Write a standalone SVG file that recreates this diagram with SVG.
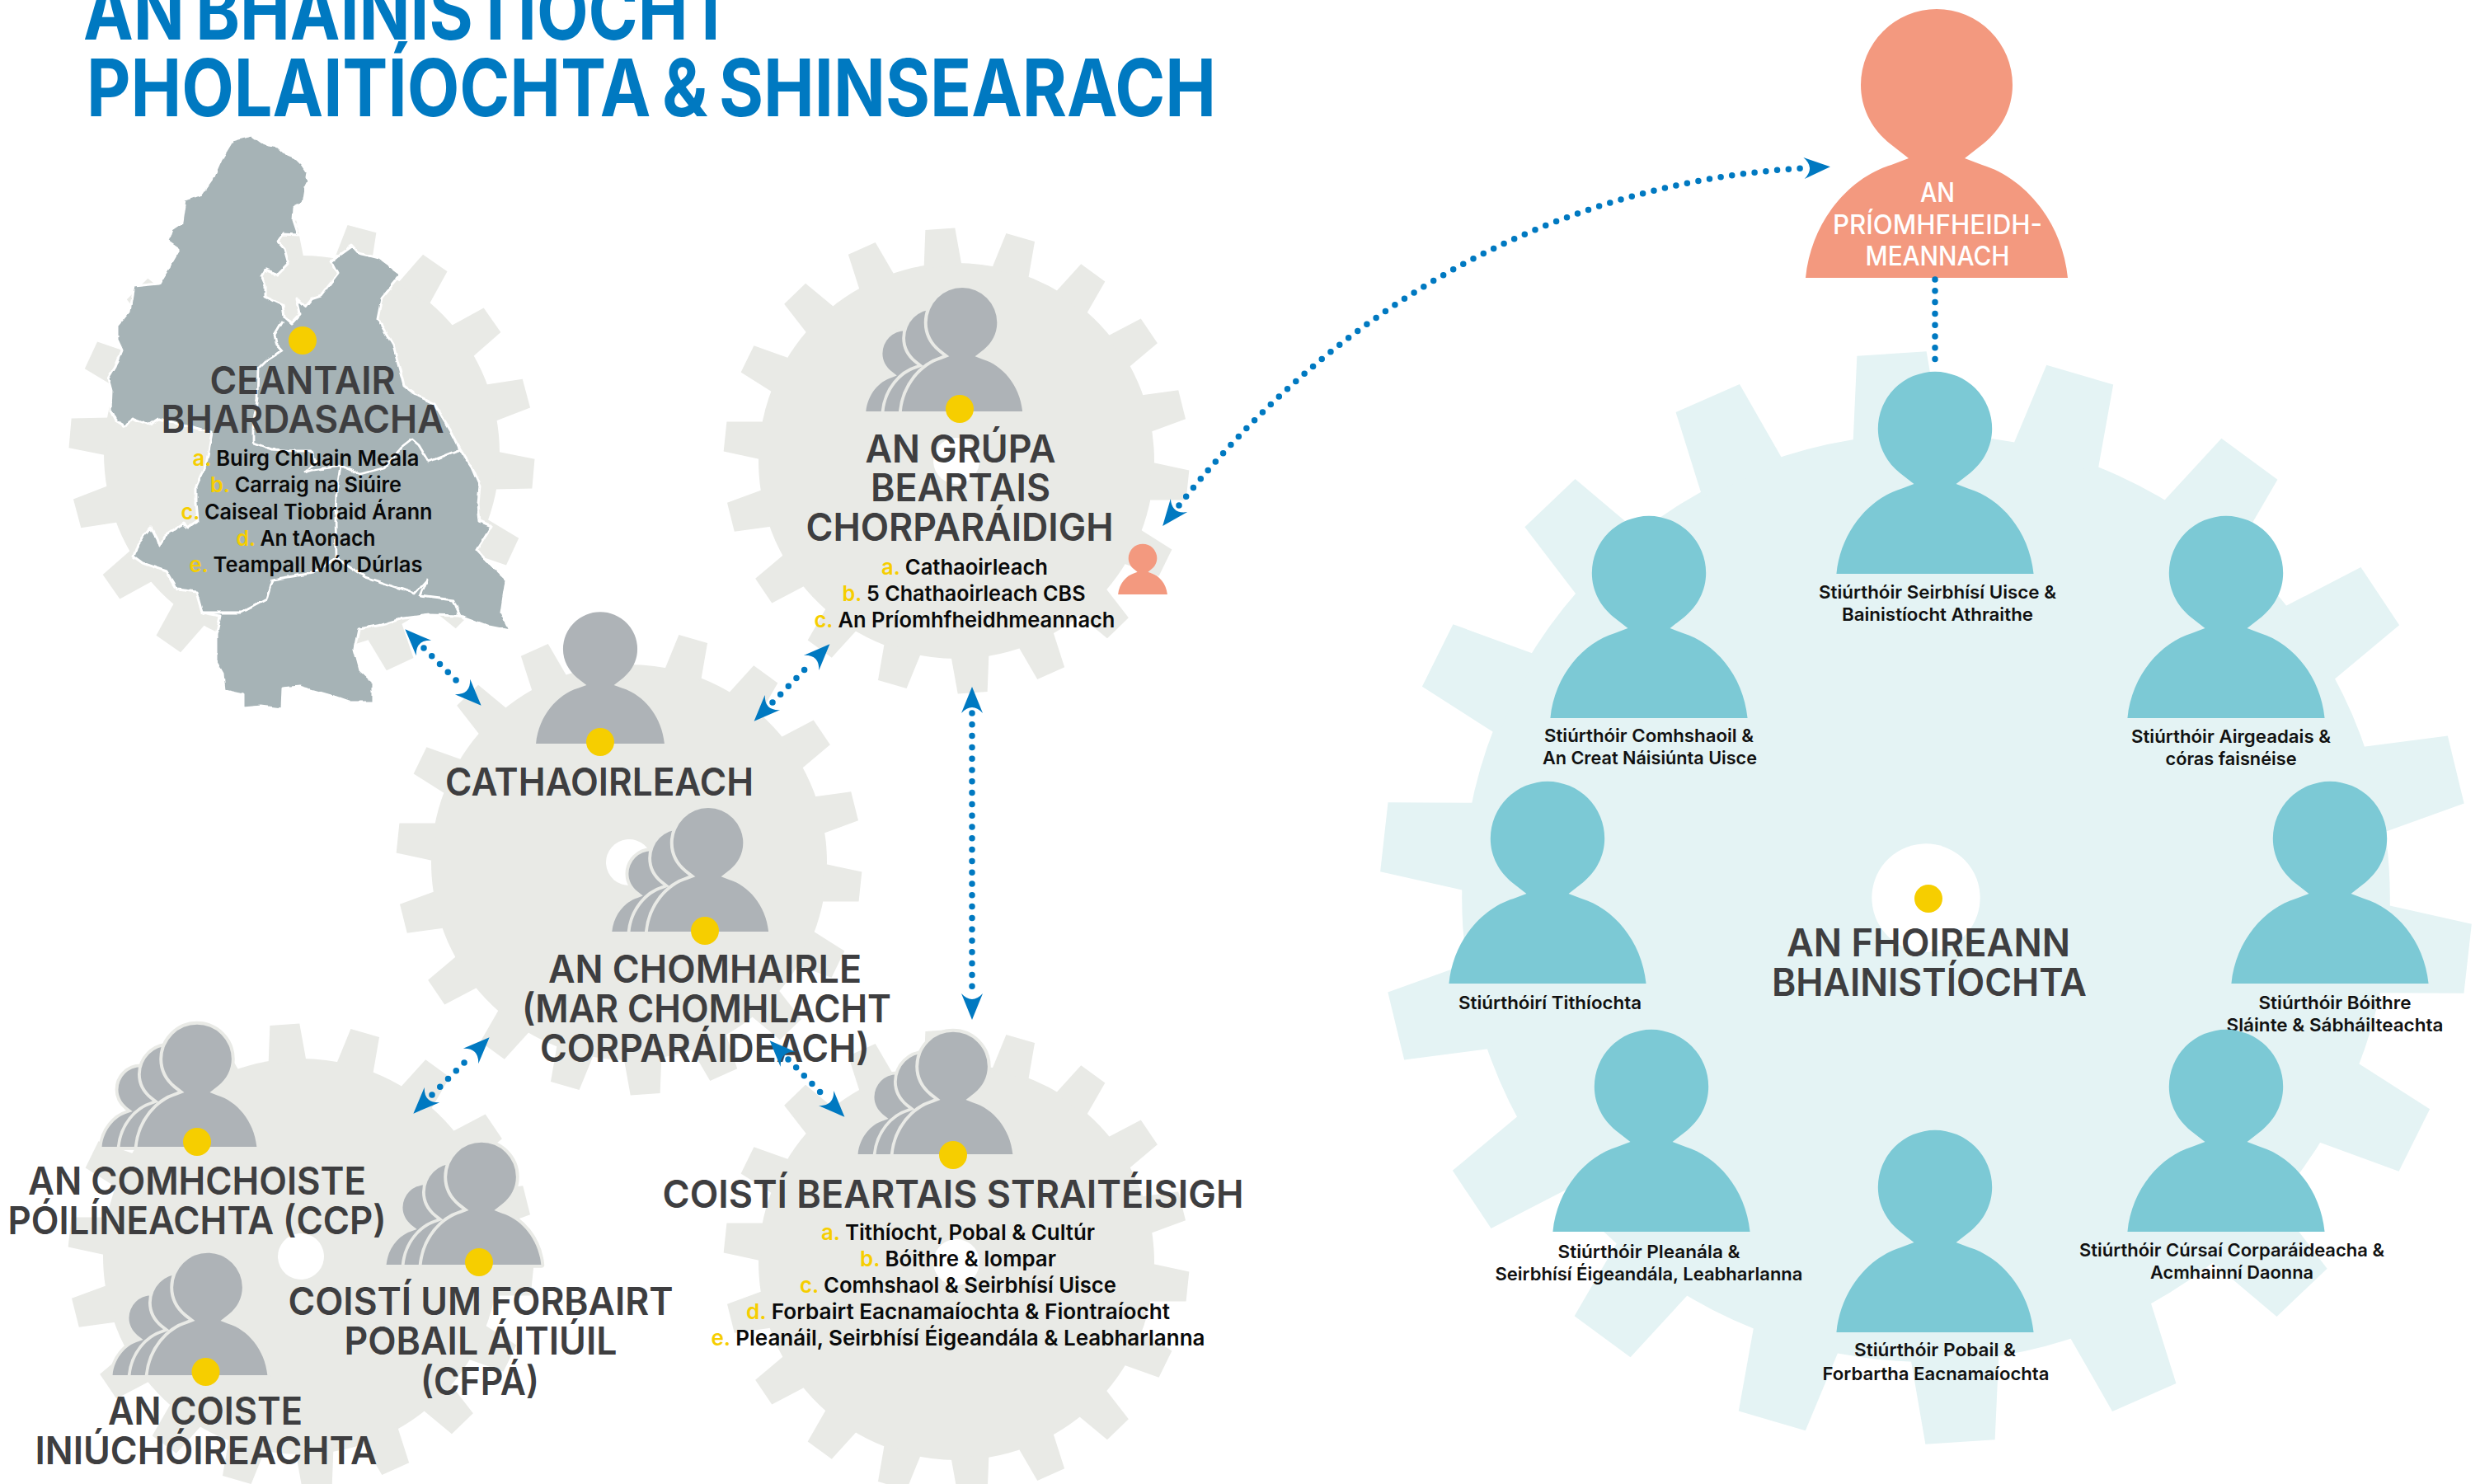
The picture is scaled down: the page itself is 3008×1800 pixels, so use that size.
<svg xmlns="http://www.w3.org/2000/svg" width="3008" height="1800" viewBox="0 0 3008 1800">
<style>
text{font-family:Inter,Roboto,"Liberation Sans",sans-serif;text-anchor:middle}
.ti{font-size:96px;font-weight:700;fill:#0079c1;word-spacing:-7px}
.h{font-size:46px;font-weight:600;fill:#3e3e40}
.l{font-size:26px;font-weight:600;fill:#0a0a0a}
.s{font-size:22px;font-weight:600;fill:#111}
.w{font-size:32px;font-weight:500;fill:#fff}
.y{fill:#f6ce00}
.gr{fill:#aeb3b7}
.te{fill:#7cc9d5}
.sa{fill:#f3997f}
.gg{fill:#e9eae6}
.dot{fill:#f6ce00}
.c{fill:none;stroke:#0079c1;stroke-width:7.5;stroke-linecap:round;stroke-dasharray:0 13.8}
.a{marker-start:url(#ah);marker-end:url(#ah)}
.tr{stroke:#e9eae6;stroke-linejoin:round;paint-order:stroke}
</style>
<defs>
<filter id="rough" x="-5%" y="-5%" width="110%" height="110%"><feTurbulence type="fractalNoise" baseFrequency="0.07" numOctaves="2" seed="4" result="n"/><feDisplacementMap in="SourceGraphic" in2="n" scale="5" xChannelSelector="R" yChannelSelector="G"/></filter>
<marker id="ah" viewBox="0 -14 34 28" markerWidth="34" markerHeight="28" refX="0" refY="0" markerUnits="userSpaceOnUse" orient="auto-start-reverse" overflow="visible"><path d="M0,-13 L32,0 L0,13 Q14,0 0,-13 Z" fill="#0079c1"/></marker>
<polygon id="t" points="-23,-236 -18,-282 18,-282 23,-236"/>
<g id="gear">
<circle r="240"/>
<use href="#t"/><use href="#t" transform="rotate(20)"/><use href="#t" transform="rotate(40)"/><use href="#t" transform="rotate(60)"/><use href="#t" transform="rotate(80)"/><use href="#t" transform="rotate(100)"/><use href="#t" transform="rotate(120)"/><use href="#t" transform="rotate(140)"/><use href="#t" transform="rotate(160)"/><use href="#t" transform="rotate(180)"/><use href="#t" transform="rotate(200)"/><use href="#t" transform="rotate(220)"/><use href="#t" transform="rotate(240)"/><use href="#t" transform="rotate(260)"/><use href="#t" transform="rotate(280)"/><use href="#t" transform="rotate(300)"/><use href="#t" transform="rotate(320)"/><use href="#t" transform="rotate(340)"/>
<circle r="28" fill="#fff"/>
</g>
<path id="p" d="M-159,0 C-152,-70 -105,-122 -55,-137 L-34,-145 L-57,-163 C-78,-180 -92,-205 -92,-234 A92,92 0 1 1 92,-234 C92,-205 78,-180 57,-163 L34,-145 L55,-137 C105,-122 152,-70 159,0 Z"/>
<g id="tri" class="tr">
<use href="#p" transform="translate(-150,0) scale(.652)" stroke-width="26"/>
<use href="#p" transform="translate(-74,0) scale(.826)" stroke-width="20"/>
<use href="#p" stroke-width="17"/>
</g>
</defs>

<rect width="3008" height="1800" fill="#fff"/>

<g id="gears">
<use href="#gear" class="gg" transform="translate(366,550) rotate(-5)"/>
<use href="#gear" class="gg" transform="translate(1160,559) rotate(-4)"/>
<use href="#gear" class="gg" transform="translate(763,1046) rotate(-4)"/>
<use href="#gear" class="gg" transform="translate(365,1524) rotate(-4)"/>
<use href="#gear" class="gg" transform="translate(1160,1531) rotate(-4)"/>
<use href="#gear" fill="#e4f3f4" transform="translate(2336,1089) rotate(-3.6) scale(2.345)"/>
</g>

<g id="title">
<text class="ti" x="495" y="48" textLength="788" lengthAdjust="spacingAndGlyphs">AN BHAINISTÍOCHT</text>
<text class="ti" x="790" y="141" textLength="1370" lengthAdjust="spacingAndGlyphs">PHOLAITÍOCHTA &amp; SHINSEARACH</text>
</g>

<g id="node-ceantair">
<g filter="url(#rough)">
<path fill="#a6b3b6" stroke="#fff" stroke-width="3" stroke-linejoin="round" d="M306,164 L317,172 L327,176 L337,178 L348,188 L360,193 L367,200 L373,209 L372,215 L374,220 L370,228 L367,247 L357,252 L356,267 L362,285 L343,284 L337,293 L345,302 L350,320 L337,333 L322,327 L317,335 L322,347 L322,360 L343,370 L345,385 L353,392 L364,380 L360,362 L370,372 L378,362 L390,358 L400,345 L410,332 L402,317 L413,308 L427,298 L435,307 L448,310 L460,313 L487,333 L463,362 L458,387 L477,419 L490,468 L503,478 L527,490 L547,523 L558,545 L572,567 L582,590 L580,610 L582,632 L596,638 L578,667 L597,687 L614,703 L608,743 L618,765 L593,760 L558,747 L522,746 L490,750 L463,758 L435,763 L430,787 L437,813 L452,827 L452,852 L425,852 L405,845 L363,833 L343,835 L342,860 L317,857 L295,859 L295,842 L272,837 L270,817 L262,803 L262,770 L267,747 L245,743 L238,718 L215,715 L202,693 L173,683 L162,675 L167,660 L183,640 L190,653 L193,662 L200,650 L223,635 L228,640 L240,632 L238,610 L238,590 L250,563 L257,525 L193,508 L182,515 L173,512 L160,507 L152,517 L140,510 L134,498 L135,475 L131,460 L140,445 L148,425 L142,412 L142,395 L157,377 L162,347 L193,344 L207,320 L217,303 L203,293 L208,278 L220,270 L224,242 L245,235 L257,218 L268,193 L282,170 L293,167 Z"/>
<g fill="none" stroke="#fff" stroke-width="2.8" stroke-linejoin="round">
<path d="M343,390 L333,407 L335,417 L342,425 L323,437 L313,447 L312,483 L307,517 L307,537 L330,545 L357,547 L377,547 L383,560 L370,573 L380,570 L413,565 L408,597 L407,630 L408,677 L380,695 L330,703 L323,727 L293,743 L245,743"/>
<path d="M413,565 L437,575 L467,567 L487,543 L500,533 L508,540 L520,560 L558,545"/>
<path d="M408,677 L443,700 L483,713 L503,720 L518,703 L510,723 L550,728 L558,747"/>
</g>
</g>
<circle class="dot" cx="367" cy="413" r="17"/>
<text class="h" x="367" y="478" textLength="225" lengthAdjust="spacingAndGlyphs">CEANTAIR</text>
<text class="h" x="367" y="525" textLength="343" lengthAdjust="spacingAndGlyphs">BHARDASACHA</text>
<text class="l" x="371" y="565" textLength="275" lengthAdjust="spacingAndGlyphs"><tspan class="y">a.</tspan> Buirg Chluain Meala</text>
<text class="l" x="371" y="597" textLength="232" lengthAdjust="spacingAndGlyphs"><tspan class="y">b.</tspan> Carraig na Siúire</text>
<text class="l" x="372" y="630" textLength="305" lengthAdjust="spacingAndGlyphs"><tspan class="y">c.</tspan> Caiseal Tiobraid Árann</text>
<text class="l" x="371" y="662" textLength="169" lengthAdjust="spacingAndGlyphs"><tspan class="y">d.</tspan> An tAonach</text>
<text class="l" x="371" y="694" textLength="283" lengthAdjust="spacingAndGlyphs"><tspan class="y">e.</tspan> Teampall Mór Dúrlas</text>
</g>

<g id="node-grupa">
<use href="#tri" class="gr" transform="translate(1167,499) scale(.46)"/>
<circle class="dot" cx="1164" cy="496" r="17"/>
<text class="h" x="1165" y="561" textLength="231" lengthAdjust="spacingAndGlyphs">AN GRÚPA</text>
<text class="h" x="1165" y="608" textLength="218" lengthAdjust="spacingAndGlyphs">BEARTAIS</text>
<text class="h" x="1164" y="656" textLength="373" lengthAdjust="spacingAndGlyphs">CHORPARÁIDIGH</text>
<text class="l" x="1170" y="697" textLength="202" lengthAdjust="spacingAndGlyphs"><tspan class="y">a.</tspan> Cathaoirleach</text>
<text class="l" x="1169" y="729" textLength="295" lengthAdjust="spacingAndGlyphs"><tspan class="y">b.</tspan> 5 Chathaoirleach CBS</text>
<text class="l" x="1170" y="761" textLength="365" lengthAdjust="spacingAndGlyphs"><tspan class="y">c.</tspan> An Príomhfheidhmeannach</text>
<use href="#p" class="sa" transform="translate(1386,721) scale(.188)"/>
</g>

<g id="node-cathaoirleach">
<use href="#p" class="gr" transform="translate(728,902) scale(.49)"/>
<circle class="dot" cx="728" cy="900" r="17"/>
<text class="h" x="727" y="965" textLength="374" lengthAdjust="spacingAndGlyphs">CATHAOIRLEACH</text>
</g>

<g id="node-chomhairle">
<use href="#tri" class="gr" transform="translate(859,1130) scale(.46)"/>
<circle class="dot" cx="855" cy="1129" r="17"/>
<text class="h" x="855" y="1192" textLength="380" lengthAdjust="spacingAndGlyphs">AN CHOMHAIRLE</text>
<text class="h" x="857" y="1240" textLength="448" lengthAdjust="spacingAndGlyphs">(MAR CHOMHLACHT</text>
<text class="h" x="855" y="1288" textLength="400" lengthAdjust="spacingAndGlyphs">CORPARÁIDEACH)</text>
</g>

<g id="node-ccp">
<use href="#tri" class="gr" transform="translate(239,1391) scale(.455)"/>
<circle class="dot" cx="239" cy="1385" r="17"/>
<text class="h" x="239" y="1449" textLength="410" lengthAdjust="spacingAndGlyphs">AN COMHCHOISTE</text>
<text class="h" x="239" y="1497" textLength="459" lengthAdjust="spacingAndGlyphs">PÓILÍNEACHTA (CCP)</text>
</g>

<g id="node-cfpa">
<use href="#tri" class="gr" transform="translate(584,1534) scale(.455)"/>
<circle class="dot" cx="581" cy="1531" r="17"/>
<text class="h" x="583" y="1595" textLength="467" lengthAdjust="spacingAndGlyphs">COISTÍ UM FORBAIRT</text>
<text class="h" x="583" y="1643" textLength="331" lengthAdjust="spacingAndGlyphs">POBAIL ÁITIÚIL</text>
<text class="h" x="582" y="1692" textLength="144" lengthAdjust="spacingAndGlyphs">(CFPÁ)</text>
</g>

<g id="node-coiste">
<use href="#tri" class="gr" transform="translate(252,1668) scale(.455)"/>
<circle class="dot" cx="249.500" cy="1664" r="17"/>
<text class="h" x="249" y="1728" textLength="236" lengthAdjust="spacingAndGlyphs">AN COISTE</text>
<text class="h" x="250" y="1776" textLength="415" lengthAdjust="spacingAndGlyphs">INIÚCHÓIREACHTA</text>
</g>

<g id="node-beartais">
<use href="#tri" class="gr" transform="translate(1156,1400) scale(.455)"/>
<circle class="dot" cx="1156" cy="1401" r="17"/>
<text class="h" x="1156" y="1465" textLength="705" lengthAdjust="spacingAndGlyphs">COISTÍ BEARTAIS STRAITÉISIGH</text>
<text class="l" x="1162" y="1504" textLength="332" lengthAdjust="spacingAndGlyphs"><tspan class="y">a.</tspan> Tithíocht, Pobal &amp; Cultúr</text>
<text class="l" x="1162" y="1536" textLength="238" lengthAdjust="spacingAndGlyphs"><tspan class="y">b.</tspan> Bóithre &amp; Iompar</text>
<text class="l" x="1162" y="1568" textLength="384" lengthAdjust="spacingAndGlyphs"><tspan class="y">c.</tspan> Comhshaol &amp; Seirbhísí Uisce</text>
<text class="l" x="1162" y="1600" textLength="514" lengthAdjust="spacingAndGlyphs"><tspan class="y">d.</tspan> Forbairt Eacnamaíochta &amp; Fiontraíocht</text>
<text class="l" x="1162" y="1632" textLength="599" lengthAdjust="spacingAndGlyphs"><tspan class="y">e.</tspan> Pleanáil, Seirbhísí Éigeandála &amp; Leabharlanna</text>
</g>

<g id="node-foireann">
<circle class="dot" cx="2339" cy="1090" r="17"/>
<text class="h" x="2339" y="1160" textLength="344" lengthAdjust="spacingAndGlyphs">AN FHOIREANN</text>
<text class="h" x="2340" y="1208" textLength="382" lengthAdjust="spacingAndGlyphs">BHAINISTÍOCHTA</text>
</g>

<g id="node-priomh">
<use href="#p" class="sa" transform="translate(2349,337)"/>
<text class="w" x="2350" y="245" textLength="42" lengthAdjust="spacingAndGlyphs">AN</text>
<text class="w" x="2350" y="284" textLength="254" lengthAdjust="spacingAndGlyphs">PRÍOMHFHEIDH-</text>
<text class="w" x="2350" y="322" textLength="175" lengthAdjust="spacingAndGlyphs">MEANNACH</text>
</g>

<g id="connectors">
<path class="c a" d="M514,786 L561,833"/>
<path class="c a" d="M937,852 L984,804"/>
<path class="c a" d="M524,1328 L571,1281"/>
<path class="c a" d="M956,1285 L1002,1332"/>
<path class="c a" d="M1179,865 L1179,1205"/>
<path class="c a" d="M1430,613 C1630,360 1900,220 2188,204"/>
<path class="c" d="M2347,339 L2347,449"/>
</g>

<g id="team-uisce"><use href="#p" class="te" transform="translate(2347,696) scale(.752)"/>
<text class="s" x="2350" y="726" textLength="288" lengthAdjust="spacingAndGlyphs">Stiúrthóir Seirbhísí Uisce &amp;</text>
<text class="s" x="2350" y="753" textLength="232" lengthAdjust="spacingAndGlyphs">Bainistíocht Athraithe</text></g>
<g id="team-comhshaol"><use href="#p" class="te" transform="translate(2000,871) scale(.752)"/>
<text class="s" x="2000" y="900" textLength="254" lengthAdjust="spacingAndGlyphs">Stiúrthóir Comhshaoil &amp;</text>
<text class="s" x="2001" y="927" textLength="260" lengthAdjust="spacingAndGlyphs">An Creat Náisiúnta Uisce</text></g>
<g id="team-airgeadas"><use href="#p" class="te" transform="translate(2700,871) scale(.752)"/>
<text class="s" x="2706" y="901" textLength="242" lengthAdjust="spacingAndGlyphs">Stiúrthóir Airgeadais &amp;</text>
<text class="s" x="2706" y="928" textLength="159" lengthAdjust="spacingAndGlyphs">córas faisnéise</text></g>
<g id="team-tithiocht"><use href="#p" class="te" transform="translate(1877,1193) scale(.752)"/>
<text class="s" x="1880" y="1224" textLength="222" lengthAdjust="spacingAndGlyphs">Stiúrthóirí Tithíochta</text></g>
<g id="team-boithre"><use href="#p" class="te" transform="translate(2826,1193) scale(.752)"/>
<text class="s" x="2832" y="1224" textLength="185" lengthAdjust="spacingAndGlyphs">Stiúrthóir Bóithre</text>
<text class="s" x="2832" y="1251" textLength="263" lengthAdjust="spacingAndGlyphs">Sláinte &amp; Sábháilteachta</text></g>
<g id="team-pleanail"><use href="#p" class="te" transform="translate(2003,1494) scale(.752)"/>
<text class="s" x="2000" y="1526" textLength="221" lengthAdjust="spacingAndGlyphs">Stiúrthóir Pleanála &amp;</text>
<text class="s" x="2000" y="1553" textLength="373" lengthAdjust="spacingAndGlyphs">Seirbhísí Éigeandála, Leabharlanna</text></g>
<g id="team-corparaideach"><use href="#p" class="te" transform="translate(2700,1494) scale(.752)"/>
<text class="s" x="2707" y="1524" textLength="370" lengthAdjust="spacingAndGlyphs">Stiúrthóir Cúrsaí Corparáideacha &amp;</text>
<text class="s" x="2707" y="1551" textLength="198" lengthAdjust="spacingAndGlyphs">Acmhainní Daonna</text></g>
<g id="team-pobal"><use href="#p" class="te" transform="translate(2347,1616) scale(.752)"/>
<text class="s" x="2347" y="1645" textLength="196" lengthAdjust="spacingAndGlyphs">Stiúrthóir Pobail &amp;</text>
<text class="s" x="2348" y="1674" textLength="275" lengthAdjust="spacingAndGlyphs">Forbartha Eacnamaíochta</text></g>
</svg>
